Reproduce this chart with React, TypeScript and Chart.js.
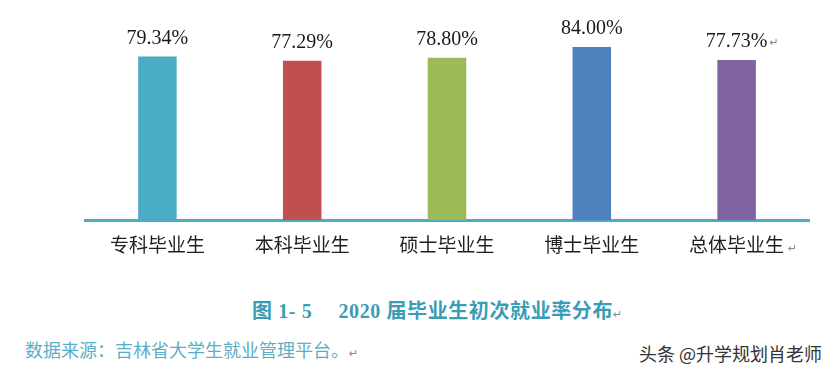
import React, { useEffect, useRef } from "react";
import { Chart, registerables } from "chart.js";

Chart.register(...registerables);

const categories = ["专科毕业生", "本科毕业生", "硕士毕业生", "博士毕业生", "总体毕业生"];
const rates = [79.34, 77.29, 78.8, 84.0, 77.73];
const rateLabels = ["79.34%", "77.29%", "78.80%", "84.00%", "77.73%"];
const barColors = ["#4BACC6", "#C0504D", "#9BBB59", "#4F81BD", "#8064A2"];
const titleText = "图 1- 5　 2020 届毕业生初次就业率分布";
const sourceText = "数据来源：吉林省大学生就业管理平台。";
const watermarkText = "头条 @升学规划肖老师";

const valueLabelPlugin = {
  id: "valueLabels",
  afterDatasetsDraw(chart: any) {
    const ctx = chart.ctx;
    const meta = chart.getDatasetMeta(0);
    ctx.save();
    ctx.font = '20px "Liberation Serif", serif';
    ctx.fillStyle = "#1a1a1a";
    ctx.textAlign = "center";
    ctx.textBaseline = "alphabetic";
    meta.data.forEach((bar: any, i: number) => {
      const txt = rateLabels[i];
      ctx.fillText(txt, bar.x, bar.y - 13);
      if (i === meta.data.length - 1) {
        const w = ctx.measureText(txt).width;
        ctx.save();
        ctx.font = '11px "DejaVu Sans", sans-serif';
        ctx.fillStyle = "#888";
        ctx.textAlign = "left";
        ctx.fillText("↵", bar.x + w / 2 + 2, bar.y - 14);
        ctx.restore();
      }
    });
    // paragraph mark after the last category label
    const xs = chart.scales.x;
    const lastX = xs.getPixelForValue(categories.length - 1);
    ctx.font = '19px "Noto Sans CJK SC", sans-serif';
    const lw = ctx.measureText(categories[categories.length - 1]).width;
    ctx.font = '11px "DejaVu Sans", sans-serif';
    ctx.fillStyle = "#888";
    ctx.textAlign = "left";
    ctx.fillText("↵", lastX + lw / 2 + 4, chart.chartArea.bottom + 32);
    ctx.restore();
  },
};

export default function App() {
  const canvasRef = useRef<HTMLCanvasElement | null>(null);

  useEffect(() => {
    if (!canvasRef.current) return;
    const chart = new Chart(canvasRef.current, {
      type: "bar",
      data: {
        labels: categories,
        datasets: [
          {
            data: rates,
            backgroundColor: barColors,
            borderWidth: 0,
            categoryPercentage: 1,
            barPercentage: 0.266,
          },
        ],
      },
      options: {
        animation: false,
        responsive: false,
        maintainAspectRatio: false,
        layout: { padding: { left: 85, right: 25, top: 14, bottom: 12 } },
        plugins: {
          legend: { display: false },
          tooltip: { enabled: false },
          title: { display: false },
        },
        scales: {
          x: {
            grid: { display: false, drawTicks: false },
            border: { display: true, color: "#4BACC6", width: 3 },
            ticks: {
              color: "#1f1f1f",
              font: { family: '"Noto Sans CJK SC", sans-serif', size: 19 },
              padding: 13,
              maxRotation: 0,
            },
          },
          y: {
            display: false,
            min: 0,
            max: 100,
          },
        },
      },
      plugins: [valueLabelPlugin],
    });
    return () => chart.destroy();
  }, []);

  return (
    <div
      style={{
        position: "fixed",
        left: 0,
        top: 0,
        width: 834,
        height: 377,
        background: "#ffffff",
        overflow: "hidden",
      }}
    >
      <canvas
        ref={canvasRef}
        width={834}
        height={281}
        style={{ position: "absolute", left: 0, top: 0, width: 834, height: 281 }}
      />
      <div
        style={{
          position: "absolute",
          left: 252,
          top: 299,
          fontFamily: '"Liberation Serif", "Noto Sans CJK SC", serif',
          fontWeight: "bold",
          fontSize: 20,
          lineHeight: "24px",
          letterSpacing: "0.6px",
          color: "#3A9DB5",
          whiteSpace: "pre",
        }}
      >
        {titleText}
        <span style={{ fontSize: 11, fontWeight: "normal", letterSpacing: 0, color: "#888", fontFamily: '"DejaVu Sans", sans-serif' }}>↵</span>
      </div>
      <div
        style={{
          position: "absolute",
          left: 25,
          top: 338,
          fontFamily: '"Noto Sans CJK SC", sans-serif',
          fontSize: 18,
          lineHeight: "22px",
          color: "#5AAFC6",
          whiteSpace: "pre",
        }}
      >
        {sourceText}
        <span style={{ fontSize: 11, color: "#888", fontFamily: '"DejaVu Sans", sans-serif' }}>↵</span>
      </div>
      <div
        style={{
          position: "absolute",
          right: 12,
          top: 342,
          fontFamily: '"Noto Sans CJK SC", sans-serif',
          fontSize: 18,
          lineHeight: "22px",
          color: "#333333",
          whiteSpace: "pre",
          textShadow: "1px 1px 0 #fff, -1px -1px 0 #fff",
        }}
      >
        {watermarkText}
      </div>
    </div>
  );
}
